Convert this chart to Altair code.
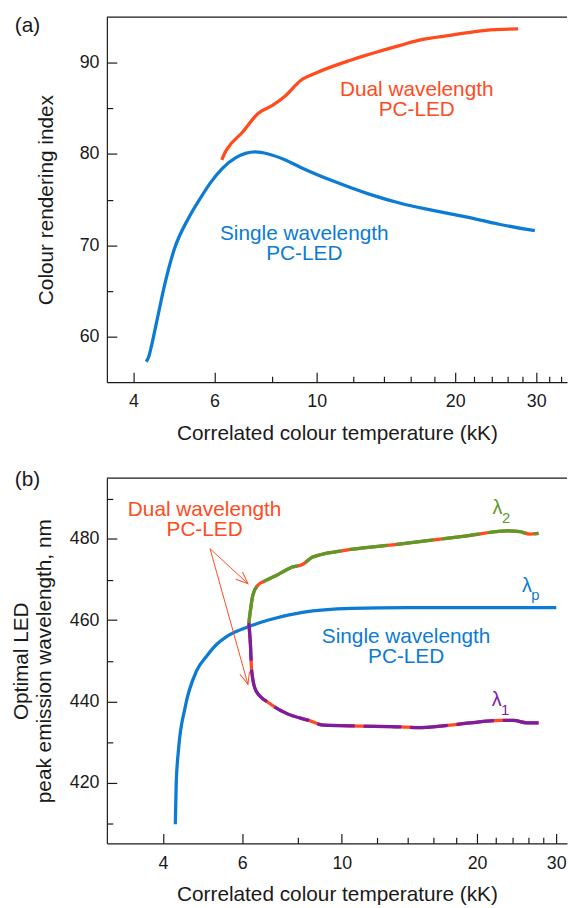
import altair as alt
import pandas as pd

# ---------------- Panel (a): colour rendering index ----------------
a_single_cct = [4.26, 4.31, 4.36, 4.49, 4.68, 4.90, 5.28, 5.60, 5.88, 6.24, 6.66, 7.36, 7.85,
                8.5, 9.26, 10.9, 13.0, 15.2, 18.0, 21.1, 24.9, 29.8]
a_single_cri = [57.25, 57.7, 58.65, 61.6, 65.8, 69.5, 73.07, 75.23, 76.86, 78.43, 79.57, 80.22, 80.0,
                79.4, 78.5, 77.0, 75.6, 74.6, 73.8, 73.1, 72.3, 71.6]
a_dual_cct = [6.22, 6.30, 6.42, 6.89, 7.48, 8.0, 8.52, 9.26, 10.0, 11.9, 15.2, 16.8, 19.5, 23.3, 27.4]
a_dual_cri = [79.35, 80.0, 80.7, 82.35, 84.5, 85.3, 86.3, 88.1, 88.9, 90.3, 91.9, 92.5, 93.0, 93.55, 93.7]

# ---------------- Panel (b): optimal peak wavelength ----------------
b_single_cct = [4.26, 4.28, 4.33, 4.48, 4.75, 5.0, 5.26, 5.53, 5.82, 6.34, 6.9, 8.17, 10.5, 14.0, 20.0, 30.0]
b_single_wl = [409.7, 419.8, 428.0, 438.5, 447.5, 451.1, 454.0, 455.9, 457.2, 458.8, 460.1, 461.9,
               462.9, 463.1, 463.1, 463.1]
b_l2_cct = [6.21, 6.34, 6.50, 6.78, 7.2, 7.76, 8.17, 8.59, 10.0, 13.56, 19.0, 23.3, 24.9, 26.2, 27.4]
b_l2_wl = [459.3, 466.2, 468.6, 469.8, 471.2, 473.1, 473.7, 475.5, 477.1, 478.8, 480.8, 482.0, 481.8, 481.2, 481.4]
b_l1_cct = [6.21, 6.26, 6.30, 6.44, 6.9, 7.57, 8.44, 9.12, 11.0, 13.56, 14.7, 17.0, 19.0, 22.5, 24.1, 25.8, 27.4]
b_l1_wl = [459.3, 454.0, 447.5, 442.6, 439.5, 436.9, 435.3, 434.1, 433.9, 433.7, 433.5, 434.0, 434.6, 435.3, 435.3, 434.7, 434.7]

# annotation arrows (panel b)
arrow_cct = [5.09, 6.18]
arrow1_wl = [477.6, 469.0]
arrow2_wl = [477.6, 444.2]
arrow_angle = [42.4, 74.3]

# axis ticks
x_ticks = [4, 6, 8, 10, 12, 14, 16, 18, 20, 22, 24, 26, 28, 30, 32, 34]
x_ticks_b = [4, 6, 8, 10, 12, 14, 16, 18, 20, 22, 24, 26, 28, 30]
x_major = [4, 6, 10, 20, 30]
y_ticks_a = [60, 65, 70, 75, 80, 85, 90]
y_ticks_b = [410, 420, 430, 440, 450, 460, 470, 480, 490]

ORANGE = "#FF4B1E"
BLUE = "#0B7BD3"
GREEN = "#5A9A28"
PURPLE = "#7B1CA1"
INK = "#1A1A1A"
FONT = "Liberation Sans"
W, H = 465, 369
LW = 3.3


def x_axis(values):
    return alt.Axis(
        values=values,
        labelExpr=f"indexof({x_major}, datum.value) >= 0 ? format(datum.value, 'd') : ''",
        tickSize=alt.ExprRef(f"indexof({x_major}, datum.value) >= 0 ? -10 : -6"),
        labelPadding=21, labelOverlap=False, labelFlush=False,
        title="Correlated colour temperature (kK)", titlePadding=8,
        grid=False,
    )


def y_axis(values, major_step, title, pad):
    return alt.Axis(
        values=values,
        labelExpr=f"datum.value % {major_step} == 0 ? format(datum.value, 'd') : ''",
        tickSize=alt.ExprRef(f"datum.value % {major_step} == 0 ? -10 : -6"),
        labelPadding=18, labelOverlap=False, labelFlush=False,
        title=title, titlePadding=pad, titleLineHeight=23,
        grid=False,
    )


one = alt.InlineData(values=[{}])

# ---------- panel (a) ----------
xa = alt.X("cct:Q", scale=alt.Scale(type="log", domain=[3.5, 35], nice=False), axis=x_axis(x_ticks))
ya = alt.Y("v:Q", scale=alt.Scale(domain=[55, 95], nice=False, zero=False),
           axis=y_axis(y_ticks_a, 10, "Colour rendering index", 23))

df_a_single = pd.DataFrame({"cct": a_single_cct, "v": a_single_cri})
df_a_dual = pd.DataFrame({"cct": a_dual_cct, "v": a_dual_cri})

a_single = alt.Chart(df_a_single).mark_line(color=BLUE, strokeWidth=LW, interpolate="monotone").encode(x=xa, y=ya)
a_dual = alt.Chart(df_a_dual).mark_line(color=ORANGE, strokeWidth=LW, interpolate="monotone").encode(x=xa, y=ya)

txt_a = pd.DataFrame({
    "cct": [16.5, 9.4],
    "v": [86.3, 70.6],
    "label": ["Dual wavelength\nPC-LED", "Single wavelength\nPC-LED"],
    "col": [ORANGE, BLUE],
})
a_text = alt.Chart(txt_a).mark_text(font=FONT, fontSize=21, lineBreak="\n", lineHeight=20,
                                     align="center", baseline="alphabetic").encode(
    x=xa, y=ya, text="label:N", color=alt.Color("col:N", scale=None))

frame_a = alt.Chart(one).mark_rule(color=INK, strokeWidth=1.2).encode(
    x=alt.value(0), x2=alt.value(W), y=alt.value(0))
tag_a = alt.Chart(one).mark_text(font=FONT, fontSize=21, align="left", baseline="top", color=INK).encode(
    x=alt.value(-93), y=alt.value(-1.6), text=alt.value("(a)"))

panel_a = alt.layer(a_single, a_dual, a_text, frame_a, tag_a).properties(width=W, height=H)

# ---------- panel (b) ----------
xb = alt.X("cct:Q", scale=alt.Scale(type="log", domain=[3, 31.7], nice=False), axis=x_axis(x_ticks_b))
yb = alt.Y("v:Q", scale=alt.Scale(domain=[405, 495], nice=False, zero=False),
           axis=y_axis(y_ticks_b, 20, ["Optimal LED", "peak emission wavelength, nm"], 15))

df_b_single = pd.DataFrame({"cct": b_single_cct, "v": b_single_wl})
df_l2 = pd.DataFrame({"cct": b_l2_cct, "v": b_l2_wl})
df_l1 = pd.DataFrame({"cct": b_l1_cct, "v": b_l1_wl})

b_single = alt.Chart(df_b_single).mark_line(color=BLUE, strokeWidth=LW, interpolate="monotone").encode(x=xb, y=yb)
l2_base = alt.Chart(df_l2).mark_line(color=ORANGE, strokeWidth=LW, interpolate="monotone").encode(x=xb, y=yb)
l2_dash = alt.Chart(df_l2).mark_line(color=GREEN, strokeWidth=LW, interpolate="monotone",
                                     strokeDash=[38, 9], strokeCap="butt").encode(x=xb, y=yb)
l1_base = alt.Chart(df_l1).mark_line(color=ORANGE, strokeWidth=LW, interpolate="monotone").encode(x=xb, y=yb)
l1_dash = alt.Chart(df_l1).mark_line(color=PURPLE, strokeWidth=LW, interpolate="monotone",
                                     strokeDash=[38, 9], strokeCap="butt").encode(x=xb, y=yb)

df_arrows = pd.DataFrame({
    "cct": arrow_cct + arrow_cct,
    "v": arrow1_wl + arrow2_wl,
    "arrow": ["a1", "a1", "a2", "a2"],
})
arrows = alt.Chart(df_arrows).mark_line(color=ORANGE, strokeWidth=1).encode(x=xb, y=yb, detail="arrow:N")
df_heads = pd.DataFrame({"cct": [arrow_cct[1], arrow_cct[1]], "v": [arrow1_wl[1], arrow2_wl[1]],
                         "ang": arrow_angle})
heads = alt.Chart(df_heads).mark_point(shape="M -1 -0.42 L 0 0 L -1 0.42", filled=False, size=576,
                                       strokeWidth=1, color=ORANGE, opacity=1).encode(
    x=xb, y=yb, angle=alt.Angle("ang:Q", scale=None))

txt_b = pd.DataFrame({
    "cct": [4.95, 13.9],
    "v": [485.7, 454.4],
    "label": ["Dual wavelength\nPC-LED", "Single wavelength\nPC-LED"],
    "col": [ORANGE, BLUE],
})
b_text = alt.Chart(txt_b).mark_text(font=FONT, fontSize=21, lineBreak="\n", lineHeight=20,
                                     align="center", baseline="alphabetic").encode(
    x=xb, y=yb, text="label:N", color=alt.Color("col:N", scale=None))

lam = pd.DataFrame({
    "cct": [22.2, 25.8, 22.1],
    "v": [486.1, 467.0, 438.8],
    "sub": ["2", "p", "1"],
    "col": [GREEN, BLUE, PURPLE],
})
lam_main = alt.Chart(lam).mark_text(font=FONT, fontSize=20, align="center", baseline="alphabetic", text="λ").encode(
    x=xb, y=yb, color=alt.Color("col:N", scale=None))
lam_sub = alt.Chart(lam).mark_text(font=FONT, fontSize=15, align="left", baseline="alphabetic", dx=4.5, dy=8.5).encode(
    x=xb, y=yb, text="sub:N", color=alt.Color("col:N", scale=None))

frame_b = alt.Chart(one).mark_rule(color=INK, strokeWidth=1.2).encode(
    x=alt.value(0), x2=alt.value(W), y=alt.value(0))
tag_b = alt.Chart(one).mark_text(font=FONT, fontSize=21, align="left", baseline="top", color=INK).encode(
    x=alt.value(-93), y=alt.value(-9.3), text=alt.value("(b)"))

panel_b = alt.layer(b_single, l2_base, l2_dash, l1_base, l1_dash, arrows, heads, b_text,
                    lam_main, lam_sub, frame_b, tag_b).properties(width=W, height=H)

chart = alt.vconcat(panel_a, panel_b, spacing=97, bounds="flush").properties(
    padding={"left": 10, "top": 10.4, "right": 0, "bottom": 3}
).configure_view(stroke=None).configure_axis(
    domainColor=INK, domainWidth=1.2, tickColor=INK, tickWidth=1.2,
    labelColor=INK, titleColor=INK, labelFont=FONT, titleFont=FONT,
    labelFontSize=18, titleFontSize=21, titleFontWeight="normal",
)

chart.save("out.html", embed_options={"renderer": "svg", "actions": False})
